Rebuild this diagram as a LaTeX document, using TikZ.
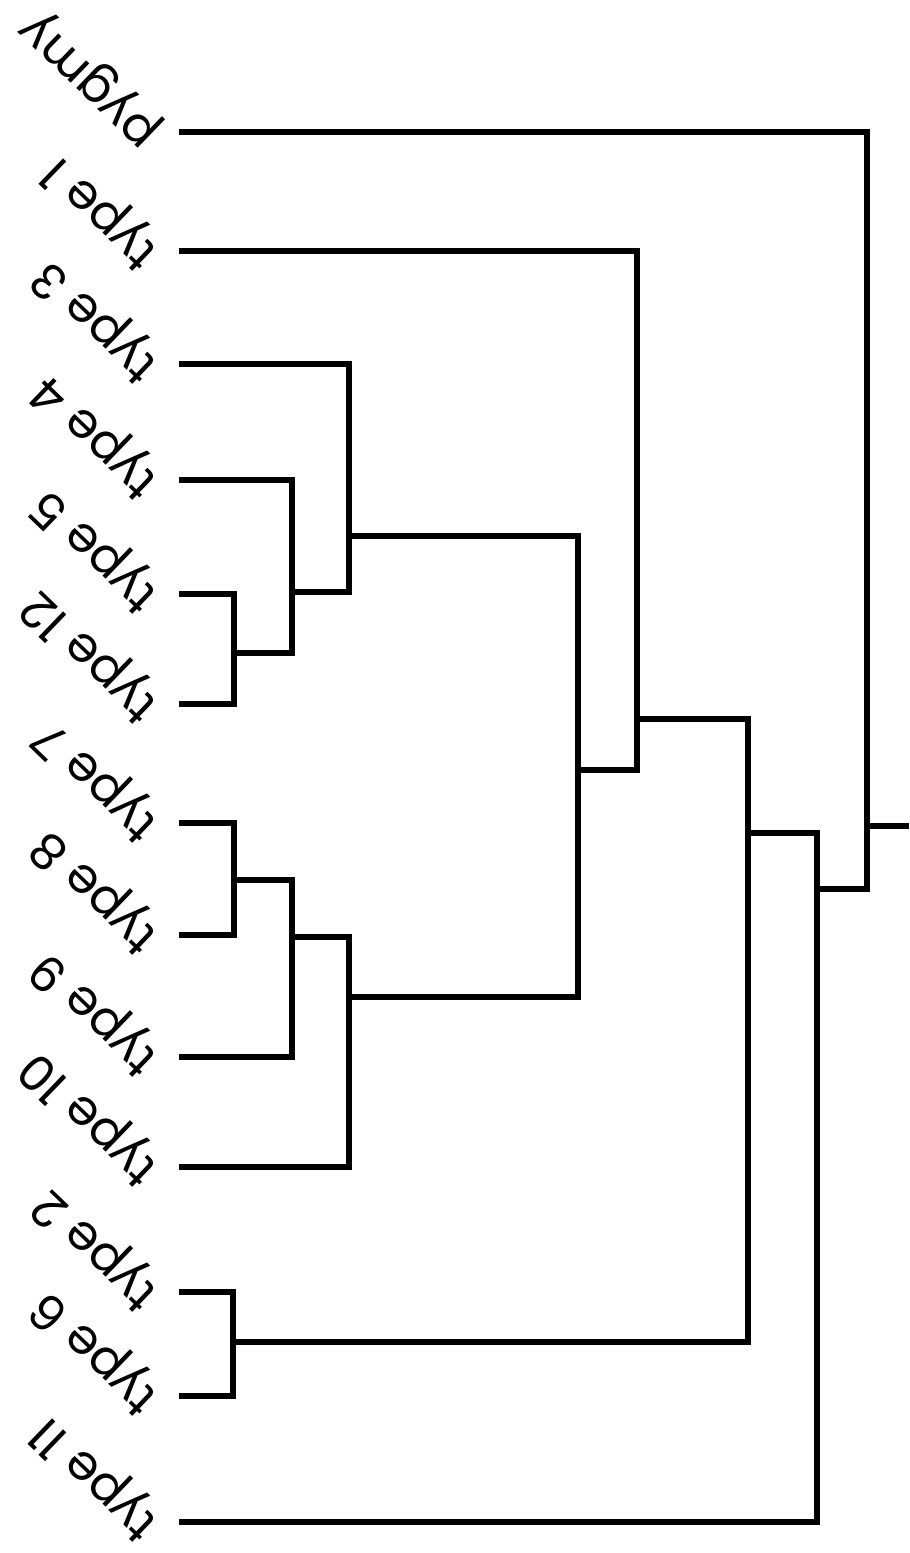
\documentclass[tikz,border=0pt]{standalone}
\usepackage{fontspec}
\setmainfont{Poppins}
\begin{document}
\begin{tikzpicture}[x=1pt,y=-1pt,
  link/.style={line width=5.5pt,line cap=rect,line join=miter},
  lbl/.style={font=\fontsize{49}{49}\selectfont,rotate=136,anchor=mid west,inner sep=0pt}]
\useasboundingbox (0,0) rectangle (910,1553);
% leaves
\coordinate (pygmy) at (182,132);  \node[lbl] (Lpygmy) at (158,134) {pygmy};
\coordinate (t1)  at (182,251);  \node[lbl] (L1)  at (158,253) {type 1};
\coordinate (t3)  at (182,364);  \node[lbl] (L3)  at (158,366) {type 3};
\coordinate (t4)  at (182,480);  \node[lbl] (L4)  at (158,482) {type 4};
\coordinate (t5)  at (182,594);  \node[lbl] (L5)  at (158,596) {type 5};
\coordinate (t12) at (182,704);  \node[lbl] (L12) at (158,706) {type 12};
\coordinate (t7)  at (182,823);  \node[lbl] (L7)  at (158,825) {type 7};
\coordinate (t8)  at (182,935);  \node[lbl] (L8)  at (158,937) {type 8};
\coordinate (t9)  at (182,1057); \node[lbl] (L9)  at (158,1059) {type 9};
\coordinate (t10) at (182,1167); \node[lbl] (L10) at (158,1169) {type 10};
\coordinate (t2)  at (182,1292); \node[lbl] (L2)  at (158,1294) {type 2};
\coordinate (t6)  at (182,1396); \node[lbl] (L6)  at (158,1398) {type 6};
\coordinate (t11) at (182,1522); \node[lbl] (L11) at (158,1524) {type 11};
% internal joins
\coordinate (m512) at (234,653);
\coordinate (m4)   at (292,592);
\coordinate (m3)   at (349,536);
\coordinate (m78)  at (234,880);
\coordinate (m9)   at (292,937);
\coordinate (m10)  at (349,997);
\coordinate (mA)   at (578,770);
\coordinate (m1)   at (637,719);
\coordinate (m26)  at (233,1342);
\coordinate (mB)   at (748,833);
\coordinate (m11)  at (817,889);
\coordinate (root) at (867,826);
\coordinate (stub) at (906,826);
% connectors
\draw[link] (t5) -| (m512);  \draw[link] (t12) -| (m512);
\draw[link] (t4) -| (m4);    \draw[link] (m512) -| (m4);
\draw[link] (t3) -| (m3);    \draw[link] (m4) -| (m3);
\draw[link] (t7) -| (m78);   \draw[link] (t8) -| (m78);
\draw[link] (m78) -| (m9);   \draw[link] (t9) -| (m9);
\draw[link] (m9) -| (m10);   \draw[link] (t10) -| (m10);
\draw[link] (m3) -| (mA);    \draw[link] (m10) -| (mA);
\draw[link] (t1) -| (m1);    \draw[link] (mA) -| (m1);
\draw[link] (t2) -| (m26);   \draw[link] (t6) -| (m26);
\draw[link] (m1) -| (mB);    \draw[link] (m26) -| (mB);
\draw[link] (mB) -| (m11);   \draw[link] (t11) -| (m11);
\draw[link] (pygmy) -| (root); \draw[link] (m11) -| (root);
\draw[link] (root) -- (stub);
\end{tikzpicture}
\end{document}
